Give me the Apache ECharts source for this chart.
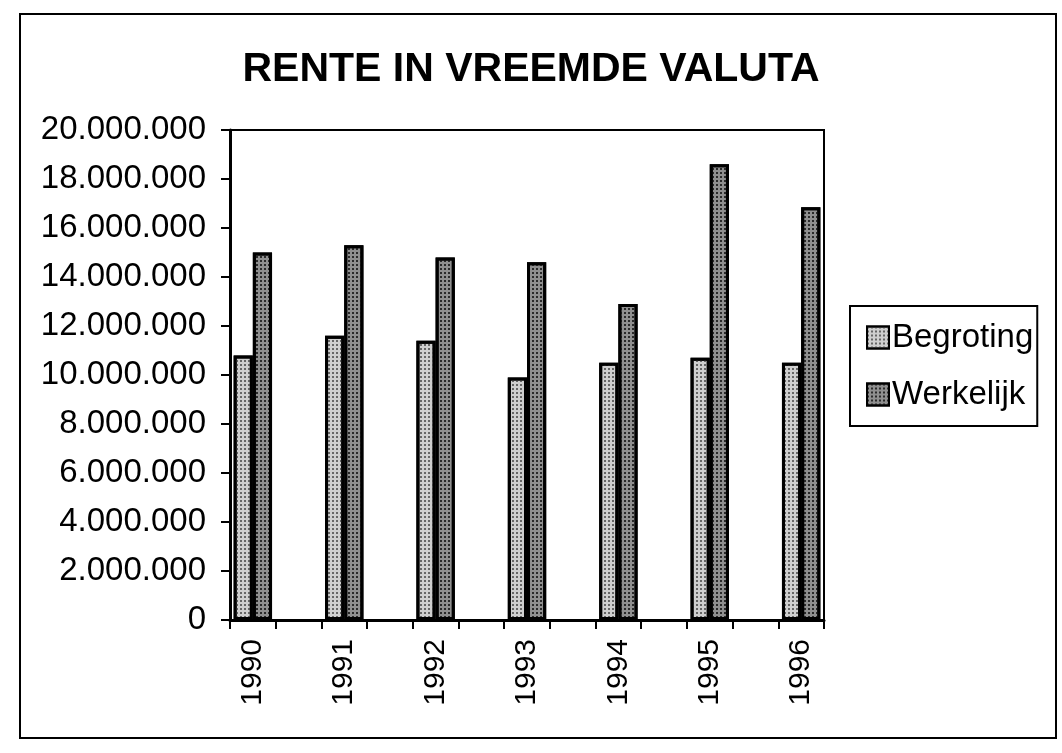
<!DOCTYPE html>
<html>
<head>
<meta charset="utf-8">
<script src="https://cdn.jsdelivr.net/npm/echarts@6/dist/echarts.min.js"></script>
<style>
  html, body { margin: 0; padding: 0; background: #fff; }
  #chart { width: 1062px; height: 753px; }
</style>
</head>
<body>
<div id="chart"></div>
<script>
// data
const years = ['1990', '1991', '1992', '1993', '1994', '1995', '1996'];
const begroting = [10800000, 11600000, 11400000, 9900000, 10500000, 10700000, 10500000];
const werkelijk = [15000000, 15300000, 14800000, 14600000, 12900000, 18600000, 16850000];
const yTicks = ['0', '2.000.000', '4.000.000', '6.000.000', '8.000.000', '10.000.000',
  '12.000.000', '14.000.000', '16.000.000', '18.000.000', '20.000.000'];

// the original axis has an empty slot between every two years
function spread(arr, blank) {
  const out = [];
  arr.forEach((v, i) => {
    out.push(v);
    if (i < arr.length - 1) out.push(blank);
  });
  return out;
}

const font = '"Liberation Sans", Arial, sans-serif';
const chart = echarts.init(document.getElementById('chart'));

chart.setOption({
  animation: false,
  backgroundColor: '#fff',
  title: {
    text: 'RENTE IN VREEMDE VALUTA',
    left: 'center',
    top: 44,
    textStyle: { fontFamily: font, fontSize: 41, fontWeight: 'bold', color: '#000' }
  },
  graphic: [{
    type: 'rect',
    shape: { x: 20, y: 14, width: 1036, height: 724 },
    style: { fill: 'none', stroke: '#000', lineWidth: 2 },
    silent: true
  }],
  legend: {
    orient: 'vertical',
    left: 850,
    top: 306,
    padding: [15, 4, 15, 16],
    itemGap: 24,
    itemWidth: 22,
    itemHeight: 22,
    icon: 'rect',
    borderColor: '#000',
    borderWidth: 2,
    textStyle: { fontFamily: font, fontSize: 33, color: '#000', padding: [0, 0, 0, -2] }
  },
  grid: {
    left: 230,
    top: 130,
    right: 238,
    bottom: 133,
    show: true,
    borderColor: '#000',
    borderWidth: 2
  },
  xAxis: {
    type: 'category',
    data: spread(years, ''),
    axisLine: { lineStyle: { color: '#000', width: 3 } },
    axisTick: { show: true, interval: 0, length: 9, lineStyle: { color: '#000', width: 2 } },
    axisLabel: {
      interval: 0,
      rotate: 90,
      margin: 19,
      fontFamily: font,
      fontSize: 30,
      color: '#000'
    }
  },
  yAxis: {
    type: 'value',
    min: 0,
    max: 20000000,
    interval: 2000000,
    splitLine: { show: false },
    axisLine: { show: true, lineStyle: { color: '#000', width: 3 } },
    axisTick: { show: true, length: 9, lineStyle: { color: '#000', width: 2 } },
    axisLabel: {
      margin: 24,
      fontFamily: font,
      fontSize: 33,
      color: '#000',
      formatter: (v) => yTicks[Math.round(v / 2000000)]
    }
  },
  series: [
    {
      name: 'Begroting',
      type: 'bar',
      data: spread(begroting, null),
      barCategoryGap: '16%',
      barGap: '0%',
      itemStyle: {
        color: '#cfcfcf',
        borderColor: '#000',
        borderWidth: 3,
        decal: { symbol: 'rect', symbolSize: 1, dashArrayX: [2, 2], dashArrayY: [2, 2], color: '#666' }
      }
    },
    {
      name: 'Werkelijk',
      type: 'bar',
      data: spread(werkelijk, null),
      itemStyle: {
        color: '#8f8f8f',
        borderColor: '#000',
        borderWidth: 3,
        decal: { symbol: 'rect', symbolSize: 1, dashArrayX: [2, 2], dashArrayY: [2, 2], color: '#2a2a2a' }
      }
    }
  ]
});
</script>
</body>
</html>
